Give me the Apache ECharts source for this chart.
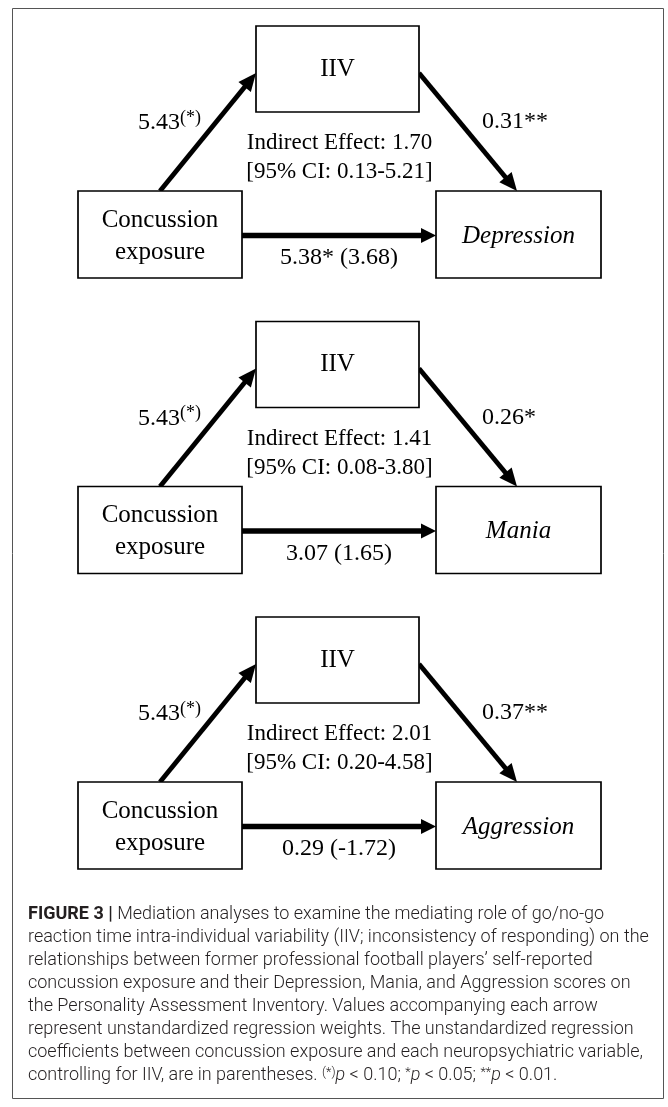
<!DOCTYPE html>
<html><head><meta charset="utf-8">
<script src="https://cdn.jsdelivr.net/npm/echarts@6/dist/echarts.min.js"></script>
<style>html,body{margin:0;padding:0;background:#fff}#c{width:668px;height:1107px}</style>
</head><body><div id="c"></div>
<script>
// ---- data ----
const mediatorLabels = ['IIV', 'IIV', 'IIV'];
const predictorLabels = ['Concussion\nexposure', 'Concussion\nexposure', 'Concussion\nexposure'];
const outcomeLabels = ['Depression', 'Mania', 'Aggression'];
const aPath = [5.43, 5.43, 5.43];
const aSig = ['(*)', '(*)', '(*)'];
const bPath = [0.31, 0.26, 0.37];
const bSig = ['**', '*', '**'];
const cPath = [5.38, 3.07, 0.29];
const cSig = ['*', '', ''];
const cPrimePath = [3.68, 1.65, -1.72];
const indirectEffect = [1.70, 1.41, 2.01];
const ciLow = [0.13, 0.08, 0.20];
const ciHigh = [5.21, 3.80, 4.58];
const captionLines = [
  '{b|FIGURE 3 |} Mediation analyses to examine the mediating role of go/no-go',
  'reaction time intra-individual variability (IIV; inconsistency of responding) on the',
  'relationships between former professional football players\u2019 self-reported',
  'concussion exposure and their Depression, Mania, and Aggression scores on',
  'the Personality Assessment Inventory. Values accompanying each arrow',
  'represent unstandardized regression weights. The unstandardized regression',
  'coefficients between concussion exposure and each neuropsychiatric variable,',
  'controlling for IIV, are in parentheses. {s|(*)}{i|p} < 0.10; {s|*}{i|p} < 0.05; {s|**}{i|p} < 0.01.'
];

// ---- layout (axis units == px) ----
const STEP = 295.5;
const BOX_M = [256, 26, 163, 86];
const BOX_X = [78, 191, 164, 87];
const BOX_Y = [436, 191, 165, 87];
const SERIF = '"Liberation Serif","Times New Roman",serif';
const SANS = 'Roboto, "Liberation Sans", Arial, sans-serif';

function fmt(v) { return v.toFixed(2); }

// caption font fit
const cv = document.createElement('canvas').getContext('2d');
cv.font = '300 100px Roboto';
const w2 = cv.measureText(captionLines[1]).width;
const capSize = Math.min(18, 100 * 625 / w2);

const chart = echarts.init(document.getElementById('c'), null, {renderer: 'canvas'});

function arrow(p0, p1, lw, hl, hw) {
  const dx = p1[0] - p0[0], dy = p1[1] - p0[1];
  const len = Math.hypot(dx, dy), ux = dx / len, uy = dy / len;
  const bx = p1[0] - ux * hl, by = p1[1] - uy * hl;
  return [
    {type: 'line', shape: {x1: p0[0], y1: p0[1], x2: bx + ux, y2: by + uy}, style: {stroke: '#000', lineWidth: lw}},
    {type: 'polygon', shape: {points: [[p1[0], p1[1]], [bx - uy * hw, by + ux * hw], [bx + uy * hw, by - ux * hw]]}, style: {fill: '#000'}}
  ];
}

function renderItem(params, api) {
  const i = api.value(0);
  const off = i * STEP;
  const P = (x, y) => api.coord([x, y + off]);
  const rect = (b) => {
    const a = P(b[0], b[1]), c = P(b[0] + b[2], b[1] + b[3]);
    return {type: 'rect', shape: {x: a[0], y: a[1], width: c[0] - a[0], height: c[1] - a[1]},
      style: {fill: '#fff', stroke: '#000', lineWidth: 1.7}};
  };
  const txt = (x, y, text, opt) => {
    const p = P(x, y);
    return {type: 'text', x: p[0], y: p[1], style: Object.assign({
      text: text, fill: '#000', font: '24px ' + SERIF, align: 'center', verticalAlign: 'middle'
    }, opt || {})};
  };
  const children = [];
  children.push(...arrow(P(160, 191), P(256, 73), 4.8, 18, 8));
  children.push(...arrow(P(419, 73), P(517, 191), 4.8, 18, 8));
  children.push(...arrow(P(242, 235.5), P(436, 235.5), 5.5, 15, 7.5));
  children.push(rect(BOX_M), rect(BOX_X), rect(BOX_Y));
  children.push(txt(337.5, 69, mediatorLabels[i], {font: '25px ' + SERIF}));
  children.push(txt(160, 236, predictorLabels[i], {font: '25px ' + SERIF, lineHeight: 32}));
  children.push(txt(518.5, 236, outcomeLabels[i], {font: 'italic 25px ' + SERIF}));
  children.push(txt(201, 122, '{n|' + fmt(aPath[i]) + '}{s|' + aSig[i] + '}', {
    align: 'right',
    rich: {n: {font: '24px ' + SERIF, lineHeight: 26, verticalAlign: 'bottom'},
           s: {font: '18px ' + SERIF, lineHeight: 18, verticalAlign: 'top'}}
  }));
  children.push(txt(482, 122, fmt(bPath[i]) + bSig[i], {align: 'left'}));
  children.push(txt(339.5, 143, 'Indirect Effect: ' + fmt(indirectEffect[i]), {font: '23px ' + SERIF}));
  children.push(txt(339.5, 172, '[95% CI: ' + fmt(ciLow[i]) + '-' + fmt(ciHigh[i]) + ']', {font: '23px ' + SERIF}));
  children.push(txt(339, 258, fmt(cPath[i]) + cSig[i] + ' (' + fmt(cPrimePath[i]) + ')'));
  return {type: 'group', children: children};
}

const capY0 = 914, capStep = 23;
const graphics = [{
  type: 'rect', z: -10, shape: {x: 12.5, y: 8.5, width: 651, height: 1090},
  style: {fill: 'none', stroke: '#555', lineWidth: 1}
}];
captionLines.forEach((line, k) => {
  graphics.push({
    type: 'text', x: 28, y: capY0 + k * capStep,
    style: {
      text: line, fill: '#231f20', font: '300 ' + capSize + 'px ' + SANS,
      align: 'left', verticalAlign: 'middle',
      rich: {
        b: {font: '700 ' + capSize + 'px ' + SANS, fill: '#231f20'},
        i: {font: 'italic 300 ' + capSize + 'px ' + SANS, fill: '#231f20'},
        s: {font: '300 ' + (capSize * 0.7) + 'px ' + SANS, fill: '#231f20', verticalAlign: 'top', lineHeight: capSize * 0.8}
      }
    }
  });
});

chart.setOption({
  animation: false,
  backgroundColor: '#fff',
  grid: {left: 0, right: 0, top: 0, bottom: 0},
  xAxis: {type: 'value', min: 0, max: 668, show: false},
  yAxis: {type: 'value', min: 0, max: 1107, inverse: true, show: false},
  graphic: graphics,
  series: [{
    type: 'custom', clip: false, renderItem: renderItem,
    data: mediatorLabels.map((_, i) => [i, 0])
  }]
});
</script></body></html>
